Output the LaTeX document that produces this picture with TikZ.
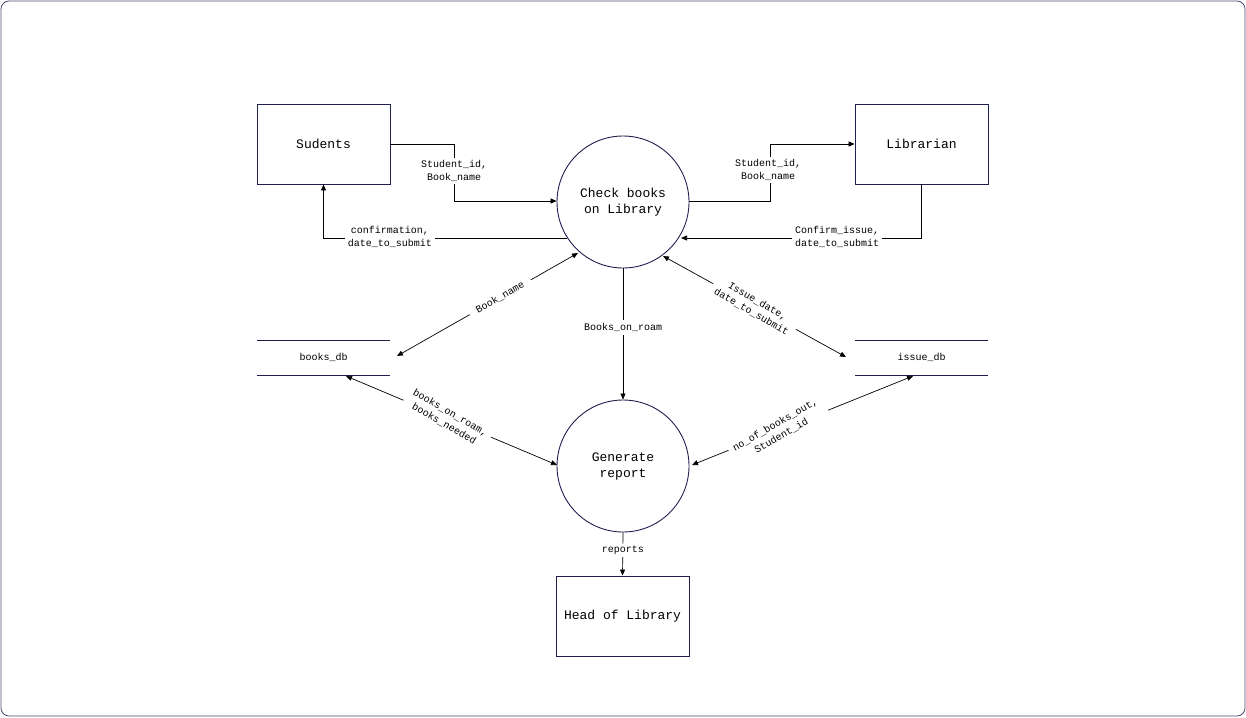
\documentclass[tikz,border=0pt]{standalone}
\usepackage{fontspec}
\setmonofont{Liberation Mono}
\usetikzlibrary{arrows.meta}
\definecolor{navy}{RGB}{30,32,80}
\begin{document}
\begin{tikzpicture}[x=1pt,y=-1pt,
  every node/.style={font=\ttfamily},
  ent/.style={draw=navy,line width=0.9pt,minimum width=133pt,minimum height=80pt,font=\fontsize{13}{15}\selectfont\ttfamily},
  proc/.style={draw=navy,line width=0.9pt,circle,minimum size=132pt,inner sep=0pt,align=center,font=\fontsize{13}{16}\selectfont\ttfamily},
  lbl/.style={fill=white,align=center,inner sep=3pt,font=\fontsize{10}{12.5}\selectfont\ttfamily},
  flow/.style={draw=black,line width=0.7pt,-{Triangle[length=6pt,width=5pt]}},
  bflow/.style={draw=black,line width=0.7pt,{Triangle[length=6pt,width=5pt]}-{Triangle[length=6pt,width=5pt]}},
  store/.style={draw=navy,line width=0.9pt}]
\useasboundingbox (0,0) rectangle (1246,717);
\draw[navy!80,line width=0.8pt,rounded corners=8pt] (1,1) rectangle (1245,716);

\node[ent] (stu) at (323.5,144) {Sudents};
\node[ent] (lib) at (921.5,144) {Librarian};
\node[ent] (head) at (622.5,616) {Head of Library};
\node[proc] (chk) at (623,202) {Check books\\on Library};
\node[proc] (gen) at (623,466) {Generate\\report};

% data stores
\coordinate (bdtl) at (257,340); \coordinate (bdtr) at (390,340);
\coordinate (bdbl) at (257,375); \coordinate (bdbr) at (390,375);
\draw[store] (bdtl) -- (bdtr); \draw[store] (bdbl) -- (bdbr);
\node[font=\fontsize{10}{12}\selectfont\ttfamily] (bdb) at (323.5,357) {books\_db};
\coordinate (idtl) at (855,340); \coordinate (idtr) at (988,340);
\coordinate (idbl) at (855,375); \coordinate (idbr) at (988,375);
\draw[store] (idtl) -- (idtr); \draw[store] (idbl) -- (idbr);
\node[font=\fontsize{10}{12}\selectfont\ttfamily] (idb) at (921.5,357) {issue\_db};

% Sudents -> Check
\draw[flow] (stu.east) -- (454,144) -- (454,201) -- (chk.west |- 0,201);
\node[lbl] (l1) at (454,171) {Student\_id,\\Book\_name};
% Check -> Sudents
\coordinate (c1) at (567,238);
\draw[flow] (c1) -- (323.5,238) -- (stu.south);
\node[lbl] (l2) at (390,237) {confirmation,\\date\_to\_submit};
% Check -> Librarian
\draw[flow] (chk.east |- 0,201) -- (770,201) -- (770,144) -- (lib.west);
\node[lbl] (l3) at (768,170) {Student\_id,\\Book\_name};
% Librarian -> Check
\coordinate (c2) at (681,238);
\draw[flow] (lib.south) -- (921.5,238) -- (c2);
\node[lbl] (l4) at (837,237) {Confirm\_issue,\\date\_to\_submit};

% Book_name
\coordinate (b1) at (397,356); \coordinate (b2) at (578,253);
\draw[bflow] (b1) -- (b2) node[lbl,pos=0.57,sloped,inner xsep=8pt] {Book\_name};
% Books_on_roam
\draw[flow] (chk.south) -- (gen.north) node[lbl,pos=0.45] {Books\_on\_roam};
% Issue_date
\coordinate (i1) at (663,256); \coordinate (i2) at (846,357);
\draw[bflow] (i1) -- (i2) node[lbl,pos=0.5,rotate=-30,inner sep=5pt] {Issue\_date,\\date\_to\_submit};
% books_on_roam, books_needed
\coordinate (r1) at (346,376); \coordinate (r2) at (557,465);
\draw[bflow] (r1) -- (r2) node[lbl,pos=0.48,rotate=-30,inner sep=5pt] {books\_on\_roam,\\books\_needed};
% no_of_books_out
\coordinate (n1) at (913,376); \coordinate (n2) at (692,465);
\draw[bflow] (n1) -- (n2) node[lbl,pos=0.61,rotate=30,inner sep=5pt] {no\_of\_books\_out,\\Student\_id};
% reports
\draw[flow] (gen.south) -- (head.north) node[lbl,pos=0.42,inner sep=2pt] {reports};
\end{tikzpicture}
\end{document}
